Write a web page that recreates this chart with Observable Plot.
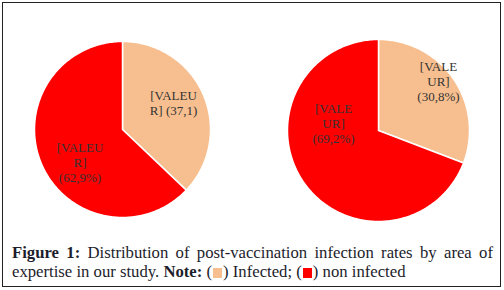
<!DOCTYPE html>
<html>
<head>
<meta charset="utf-8">
<script src="https://cdn.jsdelivr.net/npm/d3@7"></script>
<script src="https://cdn.jsdelivr.net/npm/@observablehq/plot@0.6"></script>
<style>
  html, body { margin: 0; padding: 0; background: #fff; }
  #frame { position: absolute; left: 2px; top: 2px; width: 499px; height: 285px; box-sizing: border-box; border: 1px solid #222; }
  #chart { position: absolute; left: 0; top: 0; }
  #caption { position: absolute; left: 12px; top: 243px; width: 481px; font-family: "Liberation Serif", serif; font-size: 16.7px; line-height: 19px; color: #1d1d2b; text-align: justify; text-align-last: left; }
  .sw { display: inline-block; width: 9px; height: 10px; vertical-align: -1px; margin: 0 1px; }
</style>
</head>
<body>
<div id="frame"></div>
<div id="chart"></div>
<div id="caption"><b>Figure 1:</b> Distribution of post-vaccination infection rates by area of expertise in our study. <b>Note:</b> (<span class="sw" style="background:#F7BF8F"></span>) Infected; (<span class="sw" style="background:#FF0000"></span>) non infected</div>
<script>
// ---- data ----
const categories = ["Infected", "non infected"];
const pieA = [37.1, 62.9];
const pieB = [30.8, 69.2];
const labelsA = ["[VALEU\nR] (37,1)", "[VALEU\nR]\n(62,9%)"];
const labelsB = ["[VALE\nUR]\n(30,8%)", "[VALE\nUR]\n(69,2%)"];
const colors = ["#F7BF8F", "#FF0000"];

// ---- layout ----
const W = 504, H = 236;
const pies = [
  {id: "A", values: pieA, labels: labelsA, cx: 122, cy: 129, r: 88, nudge: [[2.5, -5.7], [6, 12]]},
  {id: "B", values: pieB, labels: labelsB, cx: 378, cy: 130, r: 91, nudge: [[15, -18], [0, -38.5]]}
];

const slicePts = [];
const labelRows = [];
for (const p of pies) {
  const total = d3.sum(p.values);
  let acc = 0;
  p.values.forEach((v, i) => {
    const a0 = acc / total * 2 * Math.PI;
    acc += v;
    const a1 = acc / total * 2 * Math.PI;
    const key = p.id + i;
    slicePts.push({key, cat: categories[i], x: p.cx, y: p.cy});
    const n = Math.max(2, Math.ceil((a1 - a0) / (Math.PI / 180)));
    for (let k = 0; k <= n; k++) {
      const a = a0 + (a1 - a0) * k / n;
      slicePts.push({key, cat: categories[i], x: p.cx + p.r * Math.sin(a), y: p.cy - p.r * Math.cos(a)});
    }
    const am = (a0 + a1) / 2, f = 0.6 * p.r;
    labelRows.push({
      text: p.labels[i],
      x: p.cx + f * Math.sin(am) + p.nudge[i][0],
      y: p.cy - f * Math.cos(am) + p.nudge[i][1]
    });
  });
}

const chart = Plot.plot({
  width: W, height: H,
  margin: 0,
  x: {domain: [0, W], range: [0, W], axis: null},
  y: {domain: [0, H], range: [0, H], axis: null},
  color: {domain: categories, range: colors},
  style: {background: "transparent", overflow: "visible", fontFamily: "'Liberation Serif', serif"},
  marks: [
    Plot.line(slicePts, {x: "x", y: "y", z: "key", fill: "cat", stroke: "white", strokeWidth: 1.5, curve: "linear-closed", strokeLinejoin: "round"}),
    Plot.text(labelRows, {x: "x", y: "y", text: "text", fill: "#333333", fontSize: 13, lineHeight: 1.15, fontFamily: "Liberation Serif", textAnchor: "middle"})
  ]
});
document.getElementById("chart").appendChild(chart);
</script>
</body>
</html>
